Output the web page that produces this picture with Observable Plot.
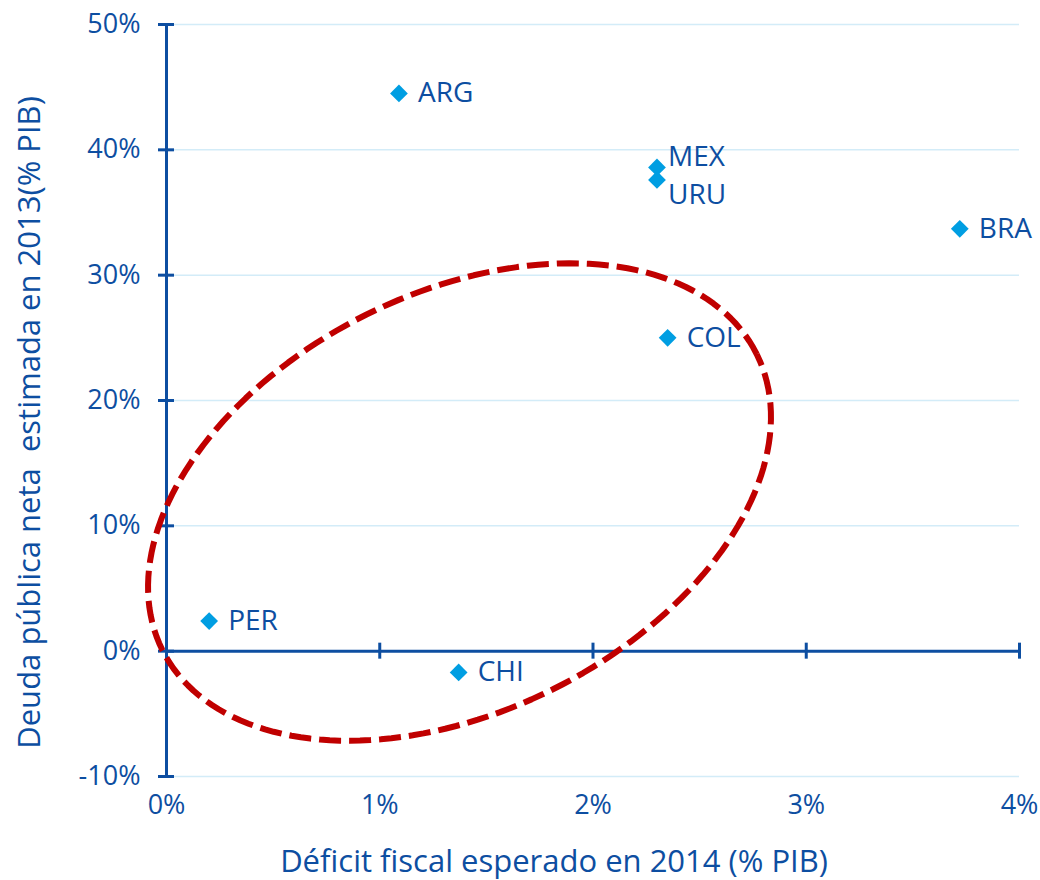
<!DOCTYPE html>
<html>
<head>
<meta charset="utf-8">
<script src="https://cdn.jsdelivr.net/npm/d3@7"></script>
<script src="https://cdn.jsdelivr.net/npm/@observablehq/plot@0.6"></script>
<style>
  html, body { margin: 0; padding: 0; background: #fff; }
  #chart svg { display: block; }
</style>
</head>
<body>
<div id="chart"></div>
<script>
// ---- Data ----
const countries = ["ARG", "MEX", "URU", "BRA", "COL", "PER", "CHI"];
const deficit2014 = [1.09, 2.30, 2.30, 3.72, 2.35, 0.20, 1.37];   // x, % PIB
const debt2013 = [44.5, 38.6, 37.6, 33.7, 25.0, 2.4, -1.7];        // y, % PIB
const xTicks = [0, 1, 2, 3, 4];
const yTicks = [-10, 0, 10, 20, 30, 40, 50];
// Highlight ellipse (data units): center and two conjugate half-axis vectors
const ellipseCenter = [1.374, 11.9];
const ellipseU = [1.394, 11.79];
const ellipseV = [-0.436, 14.96];

const xTitle = "Déficit fiscal esperado en 2014 (% PIB)";
const yTitle = "Deuda pública neta  estimada en 2013(% PIB)";

const points = countries.map((c, i) => ({ name: c, x: deficit2014[i], y: debt2013[i] }));
const ellipse = d3.range(0, 361, 2).map(deg => {
  const t = deg * Math.PI / 180;
  return {
    x: ellipseCenter[0] + ellipseU[0] * Math.cos(t) + ellipseV[0] * Math.sin(t),
    y: ellipseCenter[1] + ellipseU[1] * Math.cos(t) + ellipseV[1] * Math.sin(t)
  };
});

const blue = "#0d4ea1";
const light = "#009ee2";
const font = "'Open Sans', sans-serif";

const chart = Plot.plot({
  width: 1040,
  height: 880,
  marginLeft: 166,
  marginRight: 21,
  marginTop: 24,
  marginBottom: 104,
  style: { fontFamily: font, fontSize: "27px", color: blue, background: "#fff" },
  x: { domain: [0, 4] },
  y: { domain: [-10, 50] },
  marks: [
    Plot.ruleY(yTicks.filter(d => d !== 0), { stroke: "#d3ecf8", strokeWidth: 1.5 }),
    Plot.axisY({ ticks: yTicks, tickSize: 0, tickPadding: 26, tickFormat: d => d + "%", label: null, fontSize: 27, fill: blue }),
    Plot.axisX({ ticks: xTicks, tickSize: 0, tickPadding: 18, tickFormat: d => d + "%", label: null, fontSize: 27, fill: blue }),
    Plot.ruleX([0], { stroke: blue, strokeWidth: 3 }),
    Plot.ruleY([0], { stroke: blue, strokeWidth: 3 }),
    Plot.ruleX(xTicks, { x: d => d, y1: () => 0, y2: () => 0, insetTop: -8, insetBottom: -8, stroke: blue, strokeWidth: 3 }),
    Plot.ruleY(yTicks, { y: d => d, x1: () => 0, x2: () => 0, insetLeft: -8, insetRight: -8, stroke: blue, strokeWidth: 3 }),
    Plot.dot(points, { x: "x", y: "y", symbol: "diamond2", r: 8, fill: light, stroke: "none" }),
    Plot.text(points.filter(d => d.name !== "MEX" && d.name !== "URU"), { x: "x", y: "y", text: "name", textAnchor: "start", dx: 19, fill: blue, fontSize: 28 }),
    Plot.text(points.filter(d => d.name === "MEX"), { x: "x", y: "y", text: "name", textAnchor: "start", dx: 11, dy: -10, fill: blue, fontSize: 28 }),
    Plot.text(points.filter(d => d.name === "URU"), { x: "x", y: "y", text: "name", textAnchor: "start", dx: 11, dy: 15, fill: blue, fontSize: 28 }),
    Plot.line(ellipse, { x: "x", y: "y", stroke: "#c00000", strokeWidth: 6, strokeDasharray: "22,8", strokeLinecap: "butt", curve: "linear" }),
    Plot.text([xTitle], { frameAnchor: "bottom", textAnchor: "middle", lineAnchor: "middle", dx: -39, dy: 86, fill: blue, fontSize: 31 }),
    Plot.text([yTitle], { frameAnchor: "left", textAnchor: "middle", lineAnchor: "middle", rotate: -90, dx: -136, dy: 22, fill: blue, fontSize: 31 })
  ]
});
document.getElementById("chart").appendChild(chart);
</script>
</body>
</html>
